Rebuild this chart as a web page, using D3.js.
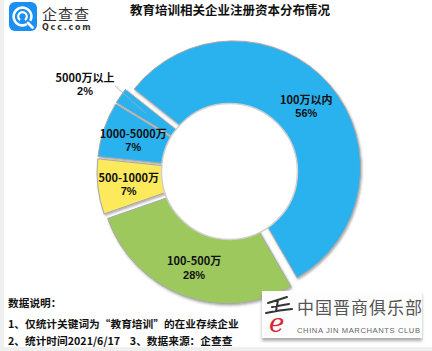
<!DOCTYPE html>
<html>
<head>
<meta charset="utf-8">
<script src="https://cdn.jsdelivr.net/npm/d3@7"></script>
<style>
body { margin: 0; background: #fff; }
text { font-family: "Noto Sans CJK SC", "Noto Sans", sans-serif; }
</style>
</head>
<body>
<svg id="chart" width="432" height="351"></svg>
<script>
// data
const categories = ["100万以内", "100-500万", "500-1000万", "1000-5000万", "5000万以上"];
const shares = [56, 28, 7, 7, 2];
const sliceColors = ["#2cb2ef", "#9cc85d", "#fde95b", "#2cb2ef", "#2cb2ef"];
const title = "教育培训相关企业注册资本分布情况";
const noteLines = ["数据说明：", "1、仅统计关键词为“教育培训”的在业存续企业", "2、统计时间2021/6/17\u00a0\u00a0\u00a0 3、数据来源：企查查"];

const svg = d3.select("#chart");
const rad = d => d * Math.PI / 180;
const polar = (a, r) => [Math.sin(a) * r, -Math.cos(a) * r];

const defs = svg.append("defs");
defs.append("filter").attr("id", "shadow")
    .attr("x", "-20%").attr("y", "-20%").attr("width", "140%").attr("height", "140%")
  .append("feDropShadow")
    .attr("dx", 1).attr("dy", 1.5).attr("stdDeviation", 1.2)
    .attr("flood-color", "#444").attr("flood-opacity", 0.45);
defs.append("filter").attr("id", "boxshadow")
    .attr("x", "-10%").attr("y", "-10%").attr("width", "120%").attr("height", "140%")
  .append("feDropShadow")
    .attr("dx", 0).attr("dy", 3).attr("stdDeviation", 1.5)
    .attr("flood-color", "#777").attr("flood-opacity", 0.6);

// page frame
svg.append("rect").attr("width", 432).attr("height", 351).attr("fill", "#efefef");
svg.append("rect").attr("x", 4).attr("width", 428).attr("height", 347).attr("fill", "#fff");

// logo
const logo = svg.append("g");
logo.append("rect").attr("x", 9).attr("y", 2).attr("width", 28).attr("height", 29)
    .attr("rx", 6).attr("fill", "#1c8ff2");
logo.append("path")
    .attr("d", d3.arc().innerRadius(7.6).outerRadius(10.2).startAngle(rad(150)).endAngle(rad(480))())
    .attr("transform", "translate(22.5,16.5)").attr("fill", "#fff");
logo.append("path")
    .attr("d", d3.arc().innerRadius(3.2).outerRadius(5.4).startAngle(rad(215)).endAngle(rad(505))())
    .attr("transform", "translate(22.5,16.5)").attr("fill", "#fff");
logo.append("line").attr("x1", 28).attr("y1", 23).attr("x2", 32.5).attr("y2", 27.5)
    .attr("stroke", "#fff").attr("stroke-width", 2.6).attr("stroke-linecap", "round");
logo.append("text").attr("x", 42).attr("y", 20).attr("font-size", 15)
    .attr("letter-spacing", 1).attr("fill", "#333").text("企查查");
logo.append("text").attr("x", 42).attr("y", 30).attr("font-size", 8).attr("font-weight", "bold")
    .attr("letter-spacing", 1.8).attr("fill", "#333").style("font-family", "'DejaVu Sans', sans-serif")
    .text("Qcc.com");

svg.append("text").attr("x", 230).attr("y", 15).attr("text-anchor", "middle")
    .attr("font-size", 12.5).attr("font-weight", "bold").attr("fill", "#111").text(title);

// doughnut
const cx = 229.5, cy = 171.5, outerR = 127, holeR = 68, explode = 5.5;
const pie = d3.pie().sort(null).value(d => d.value)
    .startAngle(rad(-51.6)).endAngle(rad(308.4));
const slices = pie(categories.map((c, i) => ({ name: c, value: shares[i], color: sliceColors[i] })));
const arc = d3.arc().innerRadius(0).outerRadius(outerR);
const mid = d => (d.startAngle + d.endAngle) / 2;

const g = svg.append("g").attr("transform", `translate(${cx},${cy})`);
g.append("g").attr("filter", "url(#shadow)")
  .selectAll("path")
  .data(slices)
  .enter().append("path")
    .attr("d", arc)
    .attr("transform", d => `translate(${polar(mid(d), explode)})`)
    .attr("fill", d => d.data.color)
    .attr("stroke", "#a8a8a8")
    .attr("stroke-width", 1);

g.append("circle").attr("r", holeR).attr("fill", "#fff")
    .attr("stroke", "#cfcfcf").attr("stroke-width", 1.5);

// two-line label: name over percent
function twoLine(sel, x, y) {
    sel.append("text").attr("x", x).attr("y", y).attr("text-anchor", "middle")
        .attr("font-size", 11).attr("font-weight", "bold").attr("fill", "#111")
        .text(d => d.data.name);
    sel.append("text").attr("x", x).attr("y", y + 13.5).attr("text-anchor", "middle")
        .attr("font-size", 11).attr("font-weight", "bold").attr("fill", "#111")
        .style("font-family", "'Liberation Sans', Arial, sans-serif")
        .text(d => d.data.value + "%");
}

// labels inside the ring
const inner = slices.filter(d => d.data.value > 5);
const lab = g.selectAll("g.lab").data(inner).enter().append("g").attr("class", "lab")
    .attr("transform", d => `translate(${polar(mid(d), 96 + explode)})`);
twoLine(lab, 0, -1.5);

// outside label with leader
const small = slices.filter(d => d.data.value <= 5);
const out = g.selectAll("g.out").data(small).enter().append("g").attr("class", "out");
out.append("line")
    .attr("x1", d => polar(mid(d), 96 + explode)[0]).attr("y1", d => polar(mid(d), 96 + explode)[1])
    .attr("x2", d => polar(mid(d) + rad(2), 143)[0]).attr("y2", d => polar(mid(d) + rad(2), 143)[1])
    .attr("stroke", "#a9a9a9").attr("stroke-width", 0.8);
out.each(function(d) {
    const p = polar(mid(d) + rad(2), 143);
    twoLine(d3.select(this), p[0] - 30, p[1] - 4);
});

// notes
svg.selectAll("text.note").data(noteLines).enter().append("text").attr("class", "note")
    .attr("x", 8).attr("y", (d, i) => [307, 328, 345][i])
    .attr("font-size", 10.7).attr("font-weight", "bold").attr("fill", "#111")
    .text(d => d);

// watermark
const wm = svg.append("g");
wm.append("rect").attr("x", 262).attr("y", 291).attr("width", 160).attr("height", 47)
    .attr("fill", "#fdfdfd").attr("filter", "url(#boxshadow)");
wm.append("path").attr("d", "M268,303 Q278,300 287,297 M272,307 L289,304 M278,300 L276,311 M266,313 Q280,310 292,309")
    .attr("stroke", "#333").attr("stroke-width", 2).attr("fill", "none").attr("stroke-linecap", "round");
wm.append("text").attr("x", 269).attr("y", 332).attr("font-size", 26).attr("font-style", "italic")
    .attr("fill", "#d8262c").style("font-family", "'DejaVu Serif', serif").text("e");
wm.append("text").attr("x", 297).attr("y", 314).attr("font-size", 17).attr("letter-spacing", 1)
    .attr("fill", "#555").text("中国晋商俱乐部");
wm.append("text").attr("x", 297).attr("y", 333).attr("font-size", 7.6).attr("fill", "#666")
    .attr("textLength", 123).style("font-family", "'Liberation Sans', sans-serif")
    .text("CHINA JIN MARCHANTS CLUB");
</script>
</body>
</html>
